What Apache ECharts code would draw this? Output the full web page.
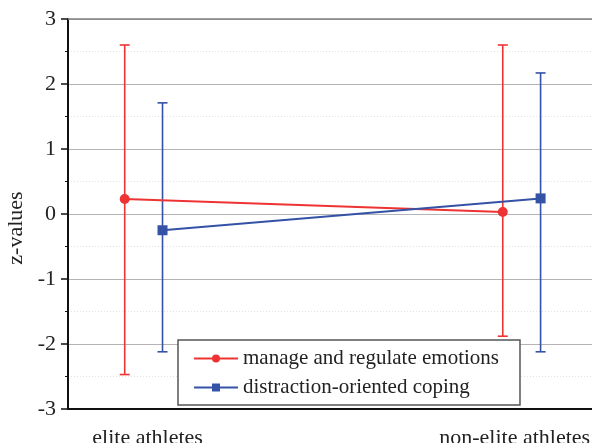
<!DOCTYPE html>
<html>
<head>
<meta charset="utf-8">
<script src="https://cdn.jsdelivr.net/npm/echarts@6/dist/echarts.min.js"></script>
<style>
html,body{margin:0;padding:0;background:#fff;}
#chart{width:592px;height:443px;}
</style>
</head>
<body>
<div id="chart"></div>
<script>
var categories = ['elite athletes', 'non-elite athletes'];
var seriesNames = ['manage and regulate emotions', 'distraction-oriented coping'];
var emotionsMean = [0.23, 0.03];
var emotionsLow = [-2.47, -1.88];
var emotionsHigh = [2.60, 2.60];
var copingMean = [-0.25, 0.24];
var copingLow = [-2.12, -2.12];
var copingHigh = [1.71, 2.17];
var yTicks = [-3, -2, -1, 0, 1, 2, 3];

var RED = '#ee3333';
var BLUE = '#3452a6';
var FONT = '"Liberation Serif", "Times New Roman", serif';
var DODGE = 0.05;

function points(mean, off) {
  return mean.map(function (v, i) { return [i + off, v]; });
}
function bars(low, high, off) {
  return low.map(function (v, i) { return [i + off, v, high[i]]; });
}
function errRender(color) {
  return function (params, api) {
    var x = api.value(0);
    var lo = api.coord([x, api.value(1)]);
    var hi = api.coord([x, api.value(2)]);
    var hw = 5;
    var st = { stroke: color, lineWidth: 1.6 };
    return {
      type: 'group',
      children: [
        { type: 'line', shape: { x1: lo[0], y1: lo[1], x2: hi[0], y2: hi[1] }, style: st },
        { type: 'line', shape: { x1: lo[0] - hw, y1: lo[1], x2: lo[0] + hw, y2: lo[1] }, style: st },
        { type: 'line', shape: { x1: hi[0] - hw, y1: hi[1], x2: hi[0] + hw, y2: hi[1] }, style: st }
      ]
    };
  };
}

var chart = echarts.init(document.getElementById('chart'), null, { renderer: 'canvas' });
chart.setOption({
  animation: false,
  backgroundColor: '#fff',
  grid: { left: 68, right: 0, top: 19, bottom: 34, containLabel: false, outerBoundsMode: 'none' },
  xAxis: [{
    type: 'value',
    min: -0.2,
    max: 1.186,
    position: 'bottom',
    axisLine: { show: true, onZero: false, lineStyle: { color: '#111', width: 2 } },
    axisTick: { show: false },
    splitLine: { show: false },
    axisLabel: {
      customValues: [0, 1],
      formatter: function (v) {
        var i = Math.round(v);
        return '{c' + i + '|' + categories[i] + '}';
      },
      rich: {
        c0: { fontFamily: FONT, fontSize: 22, color: '#222', padding: [0, 0, 0, 8] },
        c1: { fontFamily: FONT, fontSize: 22, color: '#222', padding: [0, 14, 0, 0] }
      },
      fontFamily: FONT, fontSize: 22, color: '#222', margin: 18,
      hideOverlap: false
    }
  }, {
    type: 'value',
    min: -0.2,
    max: 1.186,
    position: 'top',
    axisLine: { show: true, onZero: false, lineStyle: { color: '#808080', width: 1.5 } },
    axisTick: { show: false },
    axisLabel: { show: false },
    splitLine: { show: false }
  }],
  yAxis: {
    type: 'value',
    min: -3,
    max: 3,
    interval: 1,
    name: 'z-values',
    nameLocation: 'middle',
    nameGap: 33,
    nameTextStyle: { fontFamily: FONT, fontSize: 22, color: '#222', padding: [0, 28, 0, 0] },
    axisLine: { show: true, onZero: false, lineStyle: { color: '#111', width: 2 } },
    axisTick: { show: true, inside: false, length: 7, lineStyle: { color: '#111', width: 1.5 } },
    minorTick: { show: true, splitNumber: 2, length: 3, lineStyle: { color: '#111', width: 1 } },
    splitLine: { show: true, lineStyle: { color: '#b4b4b4', width: 1.2 } },
    minorSplitLine: { show: true, lineStyle: { color: '#e2e2e2', width: 1, type: [1, 2] } },
    axisLabel: {
      customValues: yTicks,
      fontFamily: FONT, fontSize: 22, color: '#222', margin: 12
    }
  },
  legend: {
    orient: 'vertical',
    left: 178,
    top: 340,
    padding: [8, 21, 7, 15],
    itemGap: 8,
    itemWidth: 44,
    itemHeight: 10,
    borderColor: '#555',
    borderWidth: 1.5,
    backgroundColor: '#fff',
    data: seriesNames,
    textStyle: { fontFamily: FONT, fontSize: 21, color: '#222' }
  },
  series: [
    {
      name: 'emotions-err', type: 'custom', xAxisIndex: 0, z: 2,
      renderItem: errRender(RED),
      data: bars(emotionsLow, emotionsHigh, -DODGE)
    },
    {
      name: 'coping-err', type: 'custom', xAxisIndex: 0, z: 2,
      renderItem: errRender(BLUE),
      data: bars(copingLow, copingHigh, DODGE)
    },
    {
      name: seriesNames[0], type: 'line', xAxisIndex: 0, z: 3,
      data: points(emotionsMean, -DODGE),
      symbol: 'circle', symbolSize: 10,
      lineStyle: { color: RED, width: 2 },
      itemStyle: { color: RED }
    },
    {
      name: seriesNames[1], type: 'line', xAxisIndex: 0, z: 3,
      data: points(copingMean, DODGE),
      symbol: 'rect', symbolSize: 10,
      lineStyle: { color: BLUE, width: 2 },
      itemStyle: { color: BLUE }
    }
  ]
});
</script>
</body>
</html>
